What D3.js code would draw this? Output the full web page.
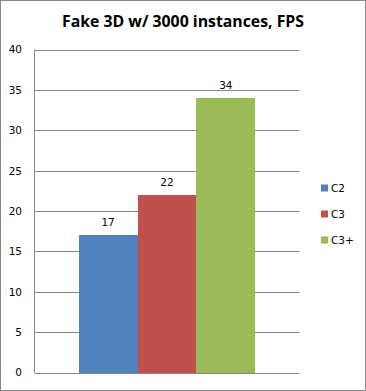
<!DOCTYPE html>
<html><head><meta charset="utf-8">
<script src="https://cdn.jsdelivr.net/npm/d3@7"></script>
<style>body{margin:0;background:#fff}svg{display:block}</style>
</head><body>
<script>
const title = "Fake 3D w/ 3000 instances, FPS";
const categories = ["Fake 3D"];
const seriesNames = ["C2", "C3", "C3+"];
const seriesValues = [17, 22, 34];
const seriesColors = ["#4F81BD", "#C0504D", "#9BBB59"];
const yTicks = [0, 5, 10, 15, 20, 25, 30, 35, 40];

const W = 366, H = 391;
const svg = d3.select("body").append("svg").attr("width", W).attr("height", H);
svg.append("rect").attr("x", 0.5).attr("y", 0.5).attr("width", W - 1).attr("height", H - 1)
  .attr("fill", "#fff").attr("stroke", "#868686");

const plot = {left: 34.5, right: 299.5, top: 49.5, bottom: 372.5};
const y = d3.scaleLinear().domain([0, 40]).range([plot.bottom, plot.top]);
const x0 = d3.scaleBand().domain(categories).range([plot.left, plot.right]).paddingInner(0).paddingOuter(0.25);
const x1 = d3.scaleBand().domain(seriesNames).range([0, x0.bandwidth()]).padding(0);

svg.append("text").attr("x", 183).attr("y", 27).attr("text-anchor", "middle")
  .attr("font-family", "Open Sans, sans-serif").attr("font-weight", "bold").attr("font-size", 16.5)
  .attr("textLength", 242).attr("lengthAdjust", "spacingAndGlyphs")
  .attr("fill", "#000").text(title);

// gridlines
svg.append("g").selectAll("line").data(yTicks).join("line")
  .attr("x1", plot.left).attr("x2", plot.right)
  .attr("y1", d => Math.round(y(d)) + 0.5).attr("y2", d => Math.round(y(d)) + 0.5)
  .attr("stroke", "#868686").attr("stroke-width", 1);
svg.append("line").attr("x1", plot.left).attr("x2", plot.left).attr("y1", plot.top).attr("y2", plot.bottom)
  .attr("stroke", "#868686");

const yAxis = d3.axisLeft(y).tickValues(yTicks).tickSize(0).tickPadding(0);
const ya = svg.append("g").attr("transform", `translate(22,0)`).call(yAxis);
ya.select(".domain").remove();
ya.selectAll("text").attr("font-family", "DejaVu Sans, sans-serif").attr("font-size", 10.5).attr("fill", "#000").attr("x", 0);

const bars = svg.append("g").attr("shape-rendering", "crispEdges");
const labels = svg.append("g");
categories.forEach(c => {
  seriesNames.forEach((s, i) => {
    const bx = x0(c) + x1(s);
    bars.append("rect").attr("x", bx).attr("y", y(seriesValues[i]))
      .attr("width", x1.bandwidth()).attr("height", y(0) - y(seriesValues[i]))
      .attr("fill", seriesColors[i]);
    labels.append("text").attr("x", bx + x1.bandwidth() / 2).attr("y", y(seriesValues[i]) - 9)
      .attr("text-anchor", "middle").attr("font-family", "DejaVu Sans, sans-serif").attr("font-size", 10.5)
      .attr("fill", "#000").text(seriesValues[i]);
  });
});

const leg = svg.append("g");
seriesNames.forEach((s, i) => {
  const ly = 188 + i * 26;
  leg.append("rect").attr("x", 321).attr("y", ly - 3.5).attr("width", 7).attr("height", 7).attr("fill", seriesColors[i]);
  leg.append("text").attr("x", 331).attr("y", ly + 4).attr("font-family", "DejaVu Sans, sans-serif")
    .attr("font-size", 10.5).attr("fill", "#000").text(s);
});
</script>
</body></html>
